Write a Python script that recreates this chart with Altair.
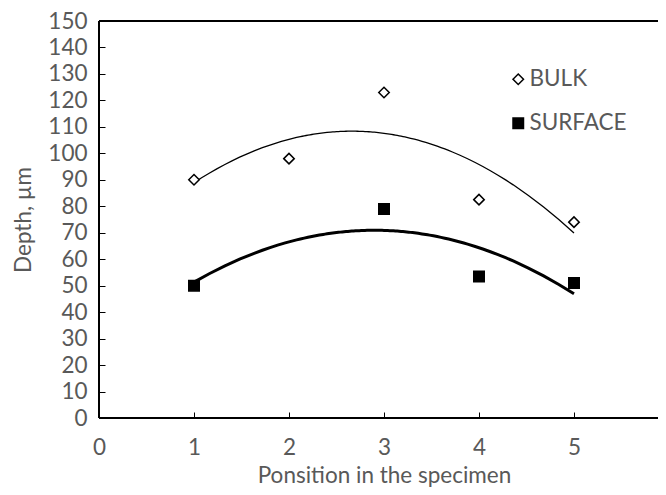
import altair as alt
import pandas as pd

bulk_x = [1, 2, 3, 4, 5]
bulk_y = [90, 98, 123, 82.5, 74]
surface_x = [1, 3, 4, 5]
surface_y = [50, 79, 53.5, 51]
series_names = ["BULK", "SURFACE"]
x_ticks = [0, 1, 2, 3, 4, 5, 6]
y_ticks = list(range(0, 151, 10))
x_min, x_max = 0, 6
y_min, y_max = 0, 150

df = pd.concat([
    pd.DataFrame({"x": bulk_x, "y": bulk_y, "series": "BULK"}),
    pd.DataFrame({"x": surface_x, "y": surface_y, "series": "SURFACE"}),
], ignore_index=True)

FONT = "Lato"
GRAY = "#595959"
FS = 22.5

xscale = alt.Scale(domain=[x_min, x_max], range=[0, 570], nice=False, zero=False)
yscale = alt.Scale(domain=[y_min, y_max], nice=False)

xaxis = alt.Axis(values=x_ticks, format="d", offset=-6, tickSize=6, domain=False, grid=False,
                 labelPadding=18, tickColor="black", tickWidth=1,
                 titleBaseline="alphabetic", titleY=70,
                 labelFontSize=FS, titleFontSize=FS, labelColor=GRAY, titleColor=GRAY,
                 labelFont=FONT, titleFont=FONT, titleFontWeight="normal", labelFlush=False)
yaxis = alt.Axis(values=y_ticks, format="d", offset=-6, tickSize=6, domain=False, grid=False,
                 labelPadding=12, titlePadding=12, tickColor="black", tickWidth=1,
                 labelFontSize=FS, titleFontSize=FS, labelColor=GRAY, titleColor=GRAY,
                 labelFont=FONT, titleFont=FONT, titleFontWeight="normal", labelFlush=False)

legend = alt.Legend(title=None, orient="none", legendX=408, legendY=47,
                    labelFontSize=FS, labelFont=FONT, labelColor=GRAY,
                    rowPadding=21, labelOffset=0, symbolStrokeWidth=1.5, padding=0)

XT = "Ponsition in the specimen"
YT = "Depth, µm"
X = alt.X("x:Q", scale=xscale, axis=xaxis, title=XT)
Y = alt.Y("y:Q", scale=yscale, axis=yaxis, title=YT)

points = alt.Chart(df).mark_point(filled=True, strokeWidth=1.5, opacity=1).encode(
    x=X, y=Y,
    shape=alt.Shape("series:N", scale=alt.Scale(domain=series_names, range=["diamond", "square"]), legend=legend),
    fill=alt.Fill("series:N", scale=alt.Scale(domain=series_names, range=["white", "black"]), legend=legend),
    stroke=alt.Stroke("series:N", scale=alt.Scale(domain=series_names, range=["black", "black"]), legend=legend),
    size=alt.Size("series:N", scale=alt.Scale(domain=series_names, range=[110, 110]), legend=legend),
)

bulk_line = alt.Chart(df).transform_filter(alt.datum.series == "BULK").transform_regression(
    "x", "y", method="poly", order=2
).mark_line(color="black", strokeWidth=1.3).encode(x=X, y=Y)
surface_line = alt.Chart(df).transform_filter(alt.datum.series == "SURFACE").transform_regression(
    "x", "y", method="poly", order=2
).mark_line(color="black", strokeWidth=3).encode(x=X, y=Y)

# plot-area frame (left, bottom, top) drawn in data coordinates
frame = alt.Chart(df).mark_rule(color="black", strokeWidth=1.5)
FX0 = alt.XDatum(x_min, scale=xscale, axis=xaxis, title=XT)
FY0 = alt.YDatum(y_min, scale=yscale, axis=yaxis, title=YT)
FY1 = alt.YDatum(y_max, scale=yscale, axis=yaxis, title=YT)
top_border = frame.encode(x=FX0, x2=alt.X2Datum(x_max), y=FY1)
bottom_border = frame.encode(x=FX0, x2=alt.X2Datum(x_max), y=FY0)
left_border = frame.encode(x=FX0, y=FY0, y2=alt.Y2Datum(y_max))

chart = alt.layer(bulk_line, surface_line, points, top_border, bottom_border, left_border).properties(
    width=559, height=397,
    autosize=alt.AutoSizeParams(type="none"),
    padding={"left": 91, "top": 13, "right": 0, "bottom": 69},
).configure_view(stroke=None)

chart.save("out.html", embed_options={"renderer": "svg", "actions": False})
